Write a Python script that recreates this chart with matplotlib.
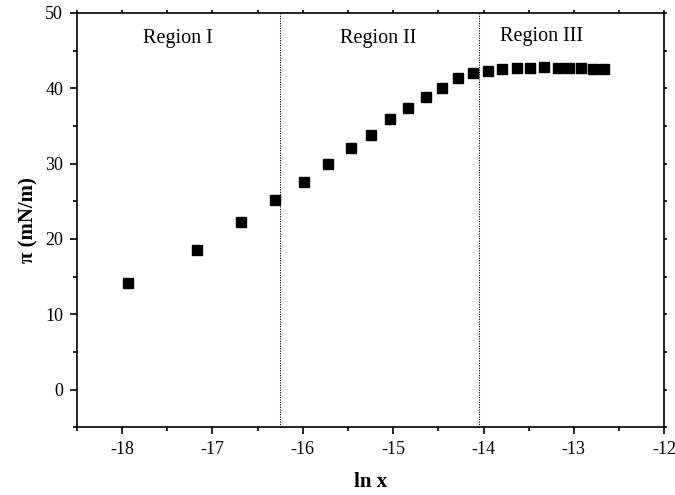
import matplotlib
matplotlib.use("Agg")
import matplotlib.pyplot as plt
from matplotlib.ticker import MultipleLocator

# surface pressure vs ln of mole fraction
ln_x = [-17.94, -17.17, -16.68, -16.31, -15.99, -15.72, -15.47, -15.25,
        -15.04, -14.84, -14.64, -14.46, -14.28, -14.12, -13.95, -13.79,
        -13.63, -13.48, -13.33, -13.18, -13.05, -12.92, -12.79, -12.67]
pi_vals = [14.1, 18.5, 22.2, 25.1, 27.5, 30.0, 32.1, 33.8,
           35.9, 37.4, 38.8, 40.0, 41.3, 42.0, 42.3, 42.6,
           42.7, 42.7, 42.8, 42.7, 42.7, 42.7, 42.6, 42.6]

boundaries = [-16.25, -14.05]
region_names = ["Region I", "Region II", "Region III"]
region_x = [-17.38, -15.17, -13.36]
region_y = [46.6, 46.6, 46.8]

plt.rcParams["font.family"] = ["Liberation Serif", "DejaVu Serif"]
plt.rcParams["axes.unicode_minus"] = False

fig = plt.figure(figsize=(6.75, 4.95), dpi=100)
ax = fig.add_axes([0.114, 0.137, 0.87, 0.837])

ax.plot(ln_x, pi_vals, linestyle="none", marker="s", markersize=6.6,
        color="black")

for b in boundaries:
    ax.axvline(b, color="black", linestyle=(0, (1, 1.2)), linewidth=0.8)

for name, tx, ty in zip(region_names, region_x, region_y):
    ax.text(tx, ty, name, ha="center", va="center", fontsize=14.5)

ax.set_xlim(-18.5, -12)
ax.set_ylim(-5, 50)
ax.xaxis.set_major_locator(MultipleLocator(1))
ax.xaxis.set_minor_locator(MultipleLocator(0.5))
ax.yaxis.set_major_locator(MultipleLocator(10))
ax.yaxis.set_minor_locator(MultipleLocator(5))

ax.tick_params(which="major", direction="out", length=5, width=1.2,
               labelsize=13, pad=5)
ax.tick_params(which="minor", direction="out", length=3, width=1.2)
ax.xaxis.set_tick_params(which="both", top=True)
ax.yaxis.set_tick_params(which="both", right=True)
# only tiny marks on the opposite spines
for t in ax.xaxis.get_major_ticks() + ax.xaxis.get_minor_ticks():
    t.tick2line.set_markersize(2)
for t in ax.yaxis.get_major_ticks() + ax.yaxis.get_minor_ticks():
    t.tick2line.set_markersize(2)

for sp in ax.spines.values():
    sp.set_linewidth(1.2)

ax.set_xlabel("ln x", fontsize=15, fontweight="bold", labelpad=10)
ax.set_ylabel("π (mN/m)", fontsize=15, fontweight="bold", labelpad=5)

fig.savefig("out.png", dpi=100)
